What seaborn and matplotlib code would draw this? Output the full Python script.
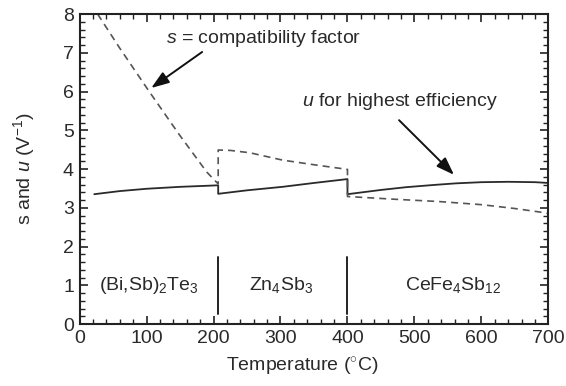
import matplotlib
matplotlib.use("Agg")
import matplotlib.pyplot as plt
from matplotlib.ticker import MultipleLocator
import pandas as pd
import seaborn as sns

# u for highest efficiency (V^-1) across the three segments
u_temp = [22, 60, 100, 150, 194, 207, 207, 250, 303, 350, 400,
          400, 450, 487, 530, 562, 600, 640, 680, 700]
u_vals = [3.35, 3.43, 3.49, 3.54, 3.57, 3.58, 3.36, 3.45, 3.54, 3.64, 3.74,
          3.35, 3.46, 3.53, 3.59, 3.63, 3.66, 3.67, 3.66, 3.64]

# s = compatibility factor (V^-1)
s_temp = [27, 60, 104, 150, 190, 205, 207, 207, 225, 254, 303, 350, 400,
          400, 470, 537, 600, 650, 687, 700]
s_vals = [8.0, 7.12, 6.0, 4.86, 3.92, 3.65, 3.62, 4.49, 4.48, 4.42, 4.23, 4.11, 3.99,
          3.29, 3.22, 3.16, 3.08, 2.98, 2.89, 2.85]

# segment boundaries and materials
boundaries = [207, 400]
materials = ["(Bi,Sb)$_2$Te$_3$", "Zn$_4$Sb$_3$", "CeFe$_4$Sb$_{12}$"]
material_pos = [104, 301, 558]

sns.set_theme(style="ticks")
plt.rcParams["font.family"] = ["Liberation Sans", "DejaVu Sans"]
plt.rcParams["mathtext.fontset"] = "custom"
plt.rcParams["mathtext.rm"] = "Liberation Sans"
plt.rcParams["mathtext.it"] = "Liberation Sans:italic"
plt.rcParams["mathtext.bf"] = "Liberation Sans:bold"

fs = 14
ink = "#2a2a2a"
fig = plt.figure(figsize=(5.66, 3.86), dpi=100)
ax = fig.add_axes([0.1405, 0.1606, 0.8285, 0.8031])

df_u = pd.DataFrame({"T": u_temp, "v": u_vals})
df_s = pd.DataFrame({"T": s_temp, "v": s_vals})
sns.lineplot(data=df_u, x="T", y="v", estimator=None, sort=False,
             color="#2a2a2a", linewidth=1.3, ax=ax)
sns.lineplot(data=df_s, x="T", y="v", estimator=None, sort=False,
             color="#555555", linewidth=1.2, ax=ax)
ax.lines[-1].set_dashes([4.2, 3.0])

for b in boundaries:
    ax.plot([b, b], [0.27, 1.73], color="#222222", linewidth=1.4)

for name, x in zip(materials, material_pos):
    ax.text(x, 1.0, name, ha="center", va="center", fontsize=fs, color=ink)

arrow = dict(arrowstyle="-|>,head_length=0.9,head_width=0.32",
             color="#111111", lw=1.4, shrinkA=0, shrinkB=0)
ax.text(275, 7.38, "$s$ = compatibility factor", ha="center", va="center",
        fontsize=fs, color=ink)
ax.annotate("", xy=(107, 6.09), xytext=(183, 7.02), arrowprops=arrow)
ax.text(479, 5.73, "$u$ for highest efficiency", ha="center", va="center",
        fontsize=fs, color=ink)
ax.annotate("", xy=(559, 3.85), xytext=(477, 5.26), arrowprops=arrow)

ax.set_xlim(0, 700)
ax.set_ylim(0, 8)
ax.xaxis.set_major_locator(MultipleLocator(100))
ax.xaxis.set_minor_locator(MultipleLocator(20))
ax.yaxis.set_major_locator(MultipleLocator(1))
ax.yaxis.set_minor_locator(MultipleLocator(0.2))
ax.tick_params(which="both", direction="in", top=True, right=True,
               color="#222222", labelcolor=ink, labelsize=fs)
ax.tick_params(which="major", length=5.5, width=1.2, pad=4)
ax.tick_params(which="minor", length=3.5, width=1.0)
for sp in ax.spines.values():
    sp.set_linewidth(1.5)
    sp.set_color("#222222")

ax.set_xlabel("Temperature ($^{\\circ}$C)", fontsize=fs, color=ink)
ax.set_ylabel("s and $u$ (V$^{-1}$)", fontsize=fs, color=ink)
ax.xaxis.set_label_coords(0.474, -0.103)
ax.yaxis.set_label_coords(-0.09, 0.5)

fig.savefig("out.png", dpi=100)
